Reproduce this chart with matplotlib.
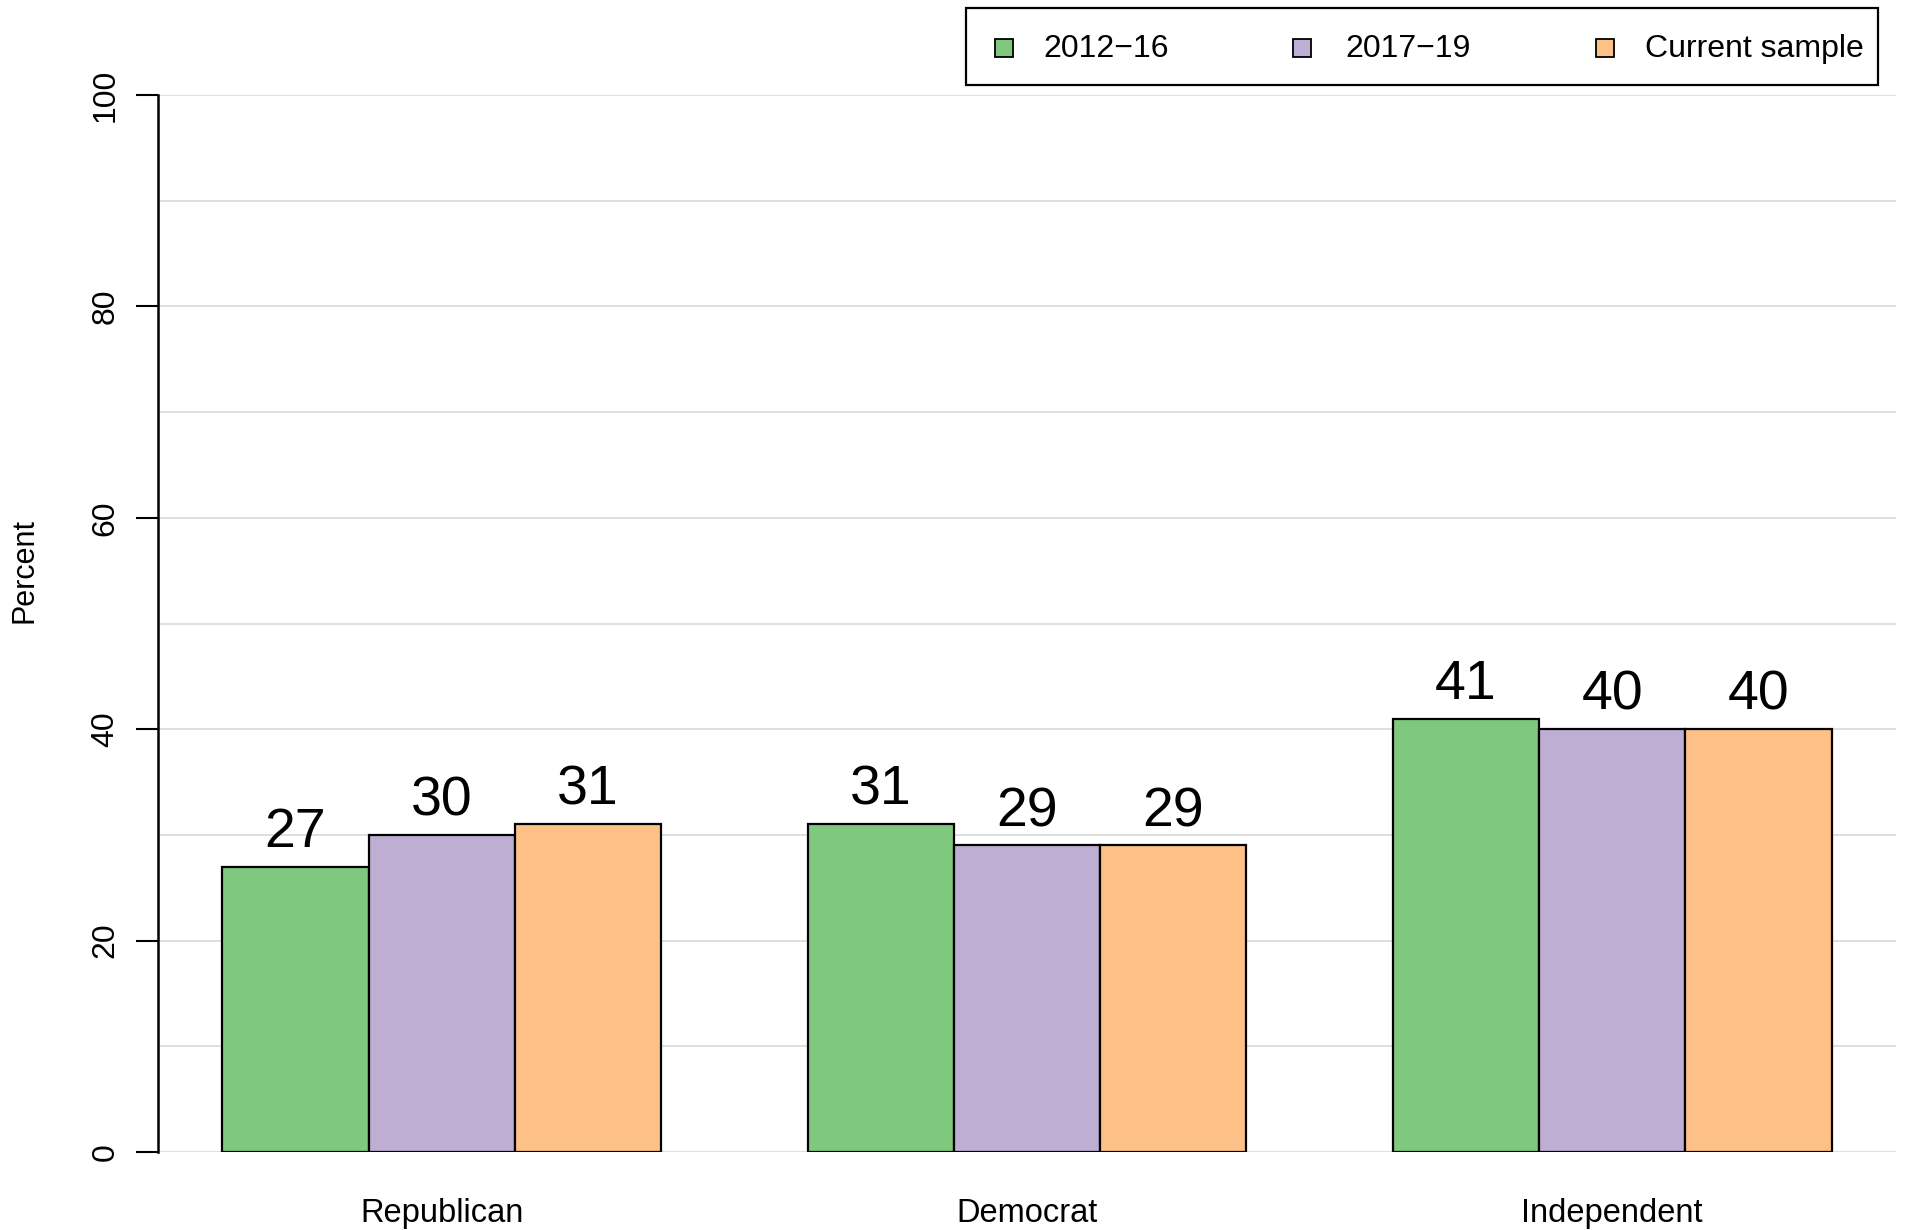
import matplotlib.pyplot as plt
from matplotlib.patches import Rectangle

# -------------------------------
# Data
# -------------------------------
categories = ["Republican", "Democrat", "Independent"]
series_names = ["2012\u221216", "2017\u221219", "Current sample"]
values_2012_16 = [27, 31, 41]
values_2017_19 = [30, 29, 40]
values_current = [31, 29, 40]
colors = ["#7FC97F", "#BEAED4", "#FDC086"]

plt.rcParams["font.family"] = ["Liberation Sans", "DejaVu Sans"]

# -------------------------------
# Figure setup
# -------------------------------
fig = plt.figure(figsize=(19.05, 12.3), dpi=100)
ax = fig.add_axes([158 / 1905, 1 - 1152 / 1230, (1896 - 158) / 1905, (1152 - 95) / 1230])

ax.set_xlim(0.56, 12.44)
ax.set_ylim(0, 100)

# gridlines every 10
for g in range(0, 101, 10):
    ax.axhline(g, color="#d9d9d9", linewidth=1.2, zorder=0)

# bars (R style: width 1, one unit gap between groups)
all_series = [values_2012_16, values_2017_19, values_current]
for s, vals in enumerate(all_series):
    for i, v in enumerate(vals):
        left = 1 + i * 4 + s
        ax.bar(left, v, width=1, align="edge", color=colors[s],
               edgecolor="black", linewidth=1.6, zorder=2)
        ax.annotate(str(v), (left + 0.5, v), xytext=(0, 14),
                    textcoords="offset points", ha="center", va="baseline",
                    fontsize=40, zorder=3)

# axes styling
for side in ["top", "right", "bottom"]:
    ax.spines[side].set_visible(False)
ax.spines["left"].set_bounds(0, 100)
ax.spines["left"].set_linewidth(1.8)

ax.set_yticks(range(0, 101, 20))
ax.set_yticklabels([str(t) for t in range(0, 101, 20)], rotation=90,
                   va="center", fontsize=23)
ax.tick_params(axis="y", length=16, width=1.5, pad=11)

ax.set_xticks([2.5 + 4 * i for i in range(len(categories))])
ax.set_xticklabels(categories, fontsize=23.5)
ax.tick_params(axis="x", length=0, pad=33)

ax.set_ylabel("Percent", fontsize=22)
ax.yaxis.set_label_coords(-0.0771, 0.55)
ax.yaxis.label.set_va("center")

# -------------------------------
# Legend (drawn manually in figure pixels)
# -------------------------------
W, H = 1905, 1230
box = Rectangle((966 / W, 1 - 85 / H), (1878 - 966) / W, (85 - 8.5) / H,
                transform=fig.transFigure, facecolor="white",
                edgecolor="black", linewidth=1.6)
fig.patches.append(box)
square_x = [995, 1293, 1596]
text_x = [1043, 1345, 1645]
leg_y = 1 - 48 / H
sq = 18
for k, name in enumerate(series_names):
    fig.patches.append(Rectangle((square_x[k] / W, leg_y - sq / 2 / H), sq / W, sq / H,
                                 transform=fig.transFigure, facecolor=colors[k],
                                 edgecolor="black", linewidth=1.3))
    fig.text(text_x[k] / W, leg_y - 1 / H, name, ha="left", va="center", fontsize=23)

fig.savefig("out.png", dpi=100)
